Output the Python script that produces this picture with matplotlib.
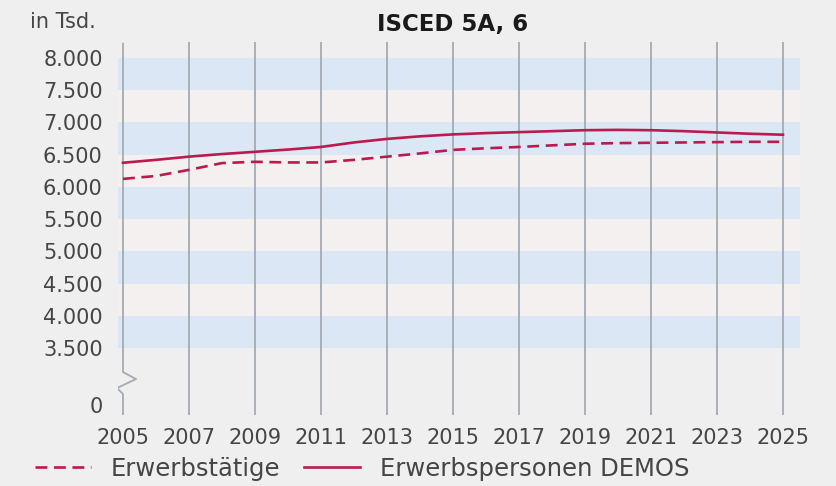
import numpy as np
import matplotlib.pyplot as plt
from matplotlib.lines import Line2D

# Jahre und Werte (in Tsd.)
jahre = list(range(2005, 2026))
erwerbstaetige = [6125, 6170, 6265, 6370, 6390, 6380, 6380, 6420, 6470, 6520, 6575,
                  6600, 6620, 6645, 6670, 6680, 6685, 6690, 6695, 6700, 6700]
erwerbspersonen = [6375, 6420, 6470, 6510, 6545, 6580, 6620, 6690, 6745, 6785, 6815,
                   6835, 6850, 6865, 6880, 6885, 6880, 6865, 6845, 6825, 6810]

y_ticks = [3500, 4000, 4500, 5000, 5500, 6000, 6500, 7000, 7500, 8000]
y_labels = ["3.500", "4.000", "4.500", "5.000", "5.500", "6.000", "6.500", "7.000", "7.500", "8.000"]
x_ticks = list(range(2005, 2026, 2))

# die Null sitzt unterhalb des Achsenbruchs
null_pos = 2618

bg = "#efefef"
rot = "#bb1a4f"
textgrau = "#454545"

fig = plt.figure(figsize=(8.36, 4.86), dpi=100, facecolor=bg)
ax = fig.add_axes([118 / 836, 1 - 415 / 486, (800 - 118) / 836, (415 - 42) / 486])
ax.set_facecolor(bg)
ax.set_xlim(2005 - 5 / 33, 2025 + 17 / 33)
ax.set_ylim(2463, 8248)

# horizontale Bänder
for i, lo in enumerate(range(3500, 8000, 500)):
    farbe = "#dbe7f4" if i % 2 == 0 else "#f4f0f0"
    ax.axhspan(lo, lo + 500, color=farbe, lw=0, zorder=0)

# senkrechte Gitterlinien
for j in x_ticks:
    if j == 2005:
        continue
    ax.axvline(j, color="#a4abb2", lw=1.3, zorder=1)

# erste Linie mit Achsenbruch
def px(xp, yp):
    return 2005 + (xp - 123) / 33, null_pos - (yp - 405) / 32.3 * 500

bx, by = zip(*[px(123, 42), px(123, 372), px(136, 379), px(117, 388),
               px(123, 394), px(123, 415)])
ax.plot(bx, by, color="#a4abb2", lw=1.3, zorder=1, solid_capstyle="butt")

ax.plot(jahre, erwerbstaetige, color=rot, lw=1.9, dashes=(4.5, 2.5), zorder=3)
ax.plot(jahre, erwerbspersonen, color=rot, lw=1.9, zorder=3)

for s in ax.spines.values():
    s.set_visible(False)
ax.set_yticks(y_ticks + [null_pos])
ax.set_yticklabels(y_labels + ["0"])
ax.set_xticks(x_ticks)
ax.set_xticklabels([str(j) for j in x_ticks])
ax.tick_params(length=0, labelsize=15, colors=textgrau)
ax.tick_params(axis="y", pad=11)
ax.tick_params(axis="x", pad=9)

fig.text(30 / 836, 1 - 22 / 486, "in Tsd.", fontsize=15, color=textgrau, va="center")
fig.text(453 / 836, 1 - 25 / 486, "ISCED 5A, 6", fontsize=16.5, fontweight="bold",
         color="#1a1a1a", ha="center", va="center")

handles = [Line2D([], [], color=rot, lw=1.9, dashes=(4.5, 2.5)),
           Line2D([], [], color=rot, lw=1.9)]
fig.legend(handles, ["Erwerbstätige", "Erwerbspersonen DEMOS"], loc="center left",
           bbox_to_anchor=(35 / 836, 1 - 469 / 486), ncol=2, frameon=False,
           fontsize=17.5, handlelength=2.3, columnspacing=1.0, handletextpad=0.8,
           borderpad=0, borderaxespad=0, labelcolor=textgrau)

fig.savefig("out.png", dpi=100, facecolor=bg)
